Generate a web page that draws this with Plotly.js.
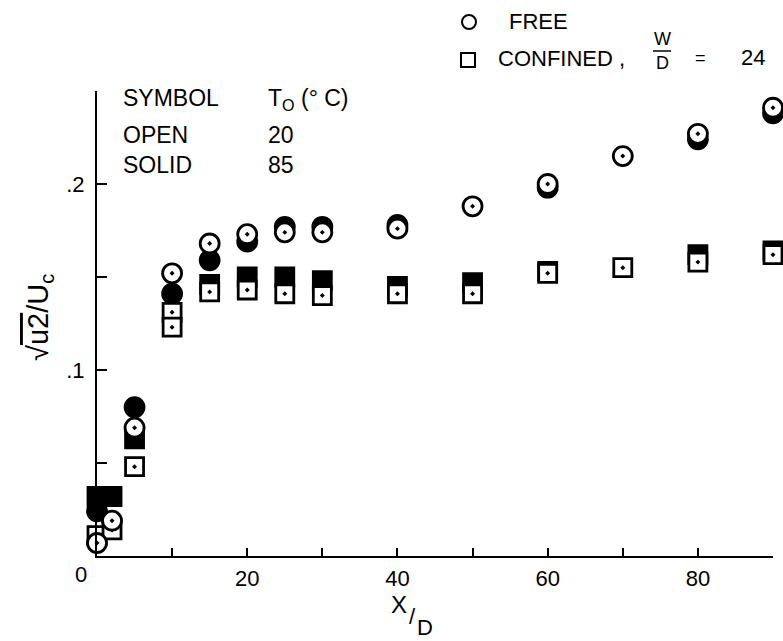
<!DOCTYPE html>
<html>
<head>
<meta charset="utf-8">
<script src="https://cdn.plot.ly/plotly-3.0.1.min.js"></script>
<style>html,body{margin:0;padding:0;background:#fff;}</style>
</head>
<body>
<div id="chart" style="width:783px;height:641px;"></div>
<script>
// ---- data (x/D and sqrt(u'^2)/Uc) ----
const xFreeOpen  = [0, 2, 5, 10, 15, 20, 25, 30, 40, 50, 60, 70, 80, 90];
const yFreeOpen  = [0.007, 0.019, 0.069, 0.152, 0.168, 0.173, 0.174, 0.174, 0.176, 0.188, 0.200, 0.215, 0.227, 0.241];
const xFreeSolid = [0, 5, 10, 15, 20, 25, 30, 40, 60, 80, 90];
const yFreeSolid = [0.024, 0.080, 0.141, 0.159, 0.169, 0.177, 0.177, 0.178, 0.198, 0.224, 0.238];
const xConfOpen  = [0, 2, 5, 10, 10, 15, 20, 25, 30, 40, 50, 60, 70, 80, 90];
const yConfOpen  = [0.011, 0.014, 0.048, 0.131, 0.123, 0.142, 0.143, 0.141, 0.140, 0.141, 0.141, 0.152, 0.155, 0.158, 0.162];
const xConfSolid = [0, 2, 5, 15, 20, 25, 30, 40, 50, 60, 80, 90];
const yConfSolid = [0.032, 0.032, 0.063, 0.146, 0.150, 0.150, 0.148, 0.145, 0.147, 0.153, 0.162, 0.164];

const xTickVals = [0, 10, 20, 30, 40, 50, 60, 70, 80, 90];
const xTickText = ['', '', '20', '', '40', '', '60', '', '80', ''];
const yTickVals = [0.05, 0.10, 0.15, 0.20, 0.25];
const yTickText = ['', '.1', '', '.2', ''];

// ---- geometry helpers (pixel -> paper) ----
const W = 783, H = 641;
const M = {l: 97, r: 10, t: 91, b: 85};
const PW = W - M.l - M.r, PH = H - M.t - M.b;
const px = x => (x - M.l) / PW;
const py = y => (H - M.b - y) / PH;

const FONT = 'Liberation Sans, Arial, sans-serif';
const mk = (sym, size, fill) => ({symbol: sym, size: size, color: fill, line: {color: '#000', width: 2.8}});

const traces = [
  {x: xConfSolid, y: yConfSolid, mode: 'markers', marker: mk('square', 18, '#000'), cliponaxis: false},
  {x: xFreeSolid, y: yFreeSolid, mode: 'markers', marker: mk('circle', 19, '#000'), cliponaxis: false},
  {x: xConfOpen,  y: yConfOpen,  mode: 'markers', marker: mk('square-dot', 18, '#fff'), cliponaxis: false},
  {x: xFreeOpen,  y: yFreeOpen,  mode: 'markers', marker: mk('circle-dot', 19, '#fff'), cliponaxis: false}
];

function txt(text, x, y, size, xanchor, extra) {
  return Object.assign({text: text, x: px(x), y: py(y), xref: 'paper', yref: 'paper',
    xanchor: xanchor || 'left', yanchor: 'middle', showarrow: false,
    font: {family: FONT, size: size, color: '#000'}}, extra || {});
}

const annotations = [
  txt('SYMBOL', 121, 98, 23),
  txt('T<sub>O</sub> (° C)', 266, 99, 23),
  txt('OPEN', 121, 135, 23),
  txt('20', 266, 135, 23),
  txt('SOLID', 121, 165, 23),
  txt('85', 266, 165, 23),
  txt('FREE', 507, 22, 22),
  txt('CONFINED ,', 496, 59, 22),
  txt('W', 662, 39, 18, 'center'),
  txt('D', 662, 63, 18, 'center'),
  txt('=', 700, 58, 18, 'center'),
  txt('24', 739, 58, 22),
  txt('0', 81, 574, 22, 'center'),
  txt('X', 399, 604, 24, 'center'),
  txt('/', 412, 616, 22, 'center'),
  txt('D', 425, 627, 22, 'center'),
  txt('√<span style="text-decoration:overline">u2</span>/U<sub>c</sub>', 40, 318, 29, 'center', {textangle: -90})
];

const shapes = [
  {type: 'circle', xref: 'paper', yref: 'paper', x0: px(462), x1: px(476), y0: py(29), y1: py(15),
   line: {color: '#000', width: 2}, fillcolor: 'rgba(0,0,0,0)'},
  {type: 'rect', xref: 'paper', yref: 'paper', x0: px(461), x1: px(475), y0: py(67), y1: py(53),
   line: {color: '#000', width: 2}, fillcolor: 'rgba(0,0,0,0)'},
  {type: 'line', xref: 'paper', yref: 'paper', x0: px(653), x1: px(671), y0: py(51), y1: py(51),
   line: {color: '#000', width: 1.5}}
];

const layout = {
  width: W, height: H,
  margin: M,
  paper_bgcolor: '#fff', plot_bgcolor: '#fff',
  showlegend: false,
  font: {family: FONT, color: '#000'},
  xaxis: {range: [0, 90], showline: true, linecolor: '#000', linewidth: 2, showgrid: false, zeroline: false,
          ticks: 'inside', ticklen: 8, tickwidth: 2, tickcolor: '#000',
          tickvals: xTickVals, ticktext: xTickText, tickfont: {family: FONT, size: 22, color: '#000'},
          ticklabelstandoff: 2},
  yaxis: {range: [0, 0.25], showline: true, linecolor: '#000', linewidth: 2, showgrid: false, zeroline: false,
          ticks: 'inside', ticklen: 10, tickwidth: 2, tickcolor: '#000',
          tickvals: yTickVals, ticktext: yTickText, tickfont: {family: FONT, size: 22, color: '#000'},
          ticklabelstandoff: 6},
  annotations: annotations,
  shapes: shapes
};

Plotly.newPlot('chart', traces, layout, {staticPlot: true, displayModeBar: false});
</script>
</body>
</html>
